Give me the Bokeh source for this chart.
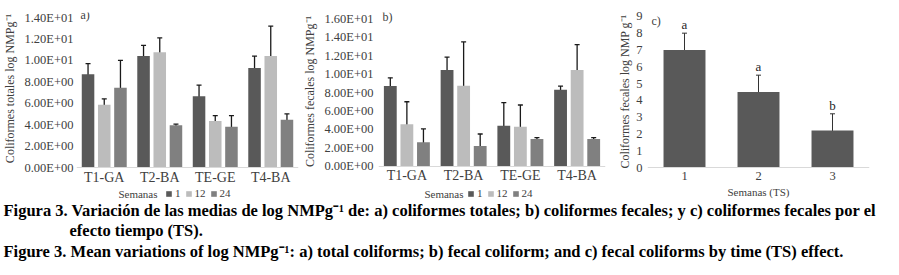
from bokeh.plotting import figure
from bokeh.models import (ColumnDataSource, FactorRange, Range1d, FixedTicker,
                          Whisker, TeeHead, Legend, LegendItem, Label)
from bokeh.transform import dodge
from bokeh.layouts import row, column
from bokeh.embed import file_html
from bokeh.resources import INLINE

# ---------------- data ----------------
cats = ["T1-GA", "T2-BA", "TE-GE", "T4-BA"]
weeks = ["1", "12", "24"]

# panel a) coliformes totales
a_s1 = [8.7, 10.4, 6.65, 9.3]
a_s1_hi = [9.7, 11.4, 7.7, 10.4]
a_s1_lo = [7.65, 9.3, 5.65, 8.3]
a_s12 = [5.85, 10.75, 4.35, 10.4]
a_s12_hi = [6.4, 12.1, 4.85, 13.2]
a_s12_lo = [4.85, 9.65, 3.35, 9.25]
a_s24 = [7.45, 3.95, 3.8, 4.45]
a_s24_hi = [10.0, 4.05, 4.85, 5.0]
a_s24_lo = [6.45, 2.9, 2.75, 3.45]
a_yticks = [0, 2, 4, 6, 8, 10, 12, 14]
a_ylabels = ["0.00E+00", "2.00E+00", "4.00E+00", "6.00E+00", "8.00E+00",
             "1.00E+01", "1.20E+01", "1.40E+01"]

# panel b) coliformes fecales
b_s1 = [8.7, 10.45, 4.4, 8.3]
b_s1_hi = [9.6, 11.85, 6.9, 8.7]
b_s1_lo = [7.7, 9.3, 3.4, 7.3]
b_s12 = [4.55, 8.75, 4.3, 10.45]
b_s12_hi = [7.0, 13.5, 6.65, 13.2]
b_s12_lo = [3.5, 7.8, 3.35, 9.3]
b_s24 = [2.6, 2.2, 2.95, 2.95]
b_s24_hi = [4.05, 3.5, 3.1, 3.1]
b_s24_lo = [1.4, 1.15, 1.9, 1.9]
b_yticks = [0, 2, 4, 6, 8, 10, 12, 14, 16]
b_ylabels = ["0.00E+00", "2.00E+00", "4.00E+00", "6.00E+00", "8.00E+00",
             "1.00E+01", "1.20E+01", "1.40E+01", "1.60E+01"]

# panel c) coliformes fecales por semanas (TS)
c_weeks = ["1", "2", "3"]
c_means = [7.0, 4.5, 2.2]
c_err = [1.0, 1.0, 1.0]
c_letters = ["a", "a", "b"]
c_yticks = [0, 1, 2, 3, 4, 5, 6, 7, 8, 9]

caption1 = ("Figura 3. Variación de las medias de log NMPg\u207b\u00b9 de: a) coliformes totales; "
            "b) coliformes fecales; y c) coliformes fecales por el")
caption2 = "efecto tiempo (TS)."
caption3 = ("Figure 3. Mean variations of log NMPg\u207b\u00b9: a) total coliforms; b) fecal coliform; "
            "and c) fecal coliforms by time (TS) effect.")

SERIF = "Liberation Serif"
COLORS = ["#595959", "#bcbcbc", "#808080"]
ERR = "#1a1a1a"
AXIS = "#d9d9d9"
TXT = "#404040"
NB = "\u00a0"  # leading non-breaking spaces lift the centred y-axis titles


def style_common(p):
    p.outline_line_color = None
    p.background_fill_color = "white"
    p.border_fill_color = "white"
    p.xgrid.grid_line_color = None
    p.ygrid.grid_line_color = None
    for ax in (p.xaxis[0], p.yaxis[0]):
        ax.major_tick_line_color = None
        ax.minor_tick_line_color = None
        ax.major_tick_out = 0
        ax.major_tick_in = 0
        ax.minor_tick_out = 0
        ax.minor_tick_in = 0
        ax.major_label_text_font = SERIF
        ax.axis_label_text_font = SERIF
        ax.axis_label_text_font_style = "normal"
        ax.axis_label_text_color = TXT
        ax.major_label_text_color = TXT
    p.yaxis[0].axis_line_color = None
    p.xaxis[0].axis_line_color = AXIS
    p.xaxis[0].axis_line_width = 1
    # x axis drawn at y = 0 inside the frame (frame reaches the bottom edge)
    p.xaxis[0].fixed_location = 0


def group_panel(tag, tag_y, ylabel, yrange, yticks, ylabels, series, width,
                bl, br, bt, tick_standoff, legend_x, semanas_x):
    p = figure(x_range=FactorRange(*cats), y_range=Range1d(*yrange),
               width=width, height=200, toolbar_location=None,
               output_backend="svg", min_border_left=bl, min_border_right=br,
               min_border_top=bt, min_border_bottom=0)
    style_common(p)
    data = dict(cats=cats)
    offsets = [-0.292, 0.0, 0.292]
    for i, (m, hi, lo) in enumerate(series):
        data[f"m{i}"] = m
        data[f"hi{i}"] = hi
        data[f"lo{i}"] = lo
    src = ColumnDataSource(data)
    items = []
    for i, wk in enumerate(weeks):
        r = p.vbar(x=dodge("cats", offsets[i], range=p.x_range), top=f"m{i}",
                   width=0.226, source=src, fill_color=COLORS[i], line_color=None)
        items.append(LegendItem(label=wk, renderers=[r]))
        w = Whisker(base=dodge("cats", offsets[i], range=p.x_range),
                    upper=f"hi{i}", lower=f"lo{i}", source=src,
                    line_color=ERR, line_width=1.3,
                    upper_head=TeeHead(size=5, line_color=ERR, line_width=1.3),
                    lower_head=TeeHead(size=5, line_color=ERR, line_width=1.3))
        p.add_layout(w)
    p.yaxis[0].ticker = FixedTicker(ticks=yticks)
    p.yaxis[0].major_label_overrides = {t: l for t, l in zip(yticks, ylabels)}
    p.yaxis[0].major_label_text_font_size = "12.5px"
    p.yaxis[0].major_label_standoff = tick_standoff
    p.yaxis[0].axis_label = ylabel
    p.yaxis[0].axis_label_text_font_size = "12px"
    p.yaxis[0].axis_label_standoff = 4
    p.xaxis[0].major_label_text_font_size = "14px"
    p.xaxis[0].major_label_standoff = 2

    leg = Legend(items=items, orientation="horizontal", location=(legend_x, 1),
                 glyph_width=7, glyph_height=7, label_height=12, label_width=4,
                 label_standoff=3, spacing=4, padding=0, margin=0,
                 border_line_color=None, background_fill_alpha=0,
                 label_text_font=SERIF, label_text_font_size="11px",
                 label_text_color=TXT)
    p.add_layout(leg, "center")
    p.add_layout(Label(x=semanas_x, y=7, x_units="screen", y_units="screen",
                       text="Semanas", text_font=SERIF, text_font_size="11px",
                       text_align="right", text_baseline="middle",
                       text_color=TXT))
    p.add_layout(Label(x=4, y=tag_y, x_units="screen", y_units="data",
                       text=tag, text_font=SERIF, text_font_size="12px",
                       text_align="left", text_baseline="middle",
                       text_color=TXT))
    return p


pa = group_panel("a)", 14.2, NB * 12 + "Coliformes totales log NMPg\u207b\u00b9", (-3.075, 14.47),
                 a_yticks, a_ylabels,
                 [(a_s1, a_s1_hi, a_s1_lo), (a_s12, a_s12_hi, a_s12_lo),
                  (a_s24, a_s24_hi, a_s24_lo)],
                 300, 72, 2, 10, 3, 89, 81)
pb = group_panel("b)", 16.15, NB * 10 + "Coliformes fecales log NMPg\u207b\u00b9", (-3.72, 16.69),
                 b_yticks, b_ylabels,
                 [(b_s1, b_s1_hi, b_s1_lo), (b_s12, b_s12_hi, b_s12_lo),
                  (b_s24, b_s24_hi, b_s24_lo)],
                 315, 78, 10, 12, 5, 89, 85)

# panel c
pc = figure(x_range=FactorRange(*c_weeks), y_range=Range1d(-1.96, 9.23), width=284, height=200,
            toolbar_location=None, output_backend="svg", min_border_left=31,
            min_border_right=30, min_border_top=10, min_border_bottom=0)
style_common(pc)
csrc = ColumnDataSource(dict(
    weeks=c_weeks, means=c_means,
    hi=[m + e for m, e in zip(c_means, c_err)],
    lo=[m - e for m, e in zip(c_means, c_err)],
    letters=c_letters))
pc.vbar(x="weeks", top="means", width=0.567, source=csrc, fill_color="#595959", line_color=None)
pc.add_layout(Whisker(base="weeks", upper="hi", lower="lo", source=csrc,
                      line_color="#333333", line_width=1,
                      upper_head=TeeHead(size=5, line_color="#333333", line_width=1),
                      lower_head=TeeHead(size=5, line_color="#333333", line_width=1)))
pc.text(x="weeks", y="hi", text="letters", source=csrc, text_font=SERIF,
        text_font_size="13px", text_align="center", text_baseline="bottom",
        y_offset=-1, text_color="#262626")
pc.yaxis[0].ticker = FixedTicker(ticks=c_yticks)
pc.yaxis[0].major_label_text_font_size = "12.5px"
pc.yaxis[0].major_label_standoff = 5
pc.yaxis[0].axis_label = NB * 10 + "Coliformes fecales log NMP g\u207b\u00b9"
pc.yaxis[0].axis_label_text_font_size = "12px"
pc.yaxis[0].axis_label_standoff = 1
pc.xaxis[0].major_label_text_font_size = "12.5px"
pc.xaxis[0].major_label_standoff = 4
pc.xaxis[0].axis_label = "Semanas (TS)"
pc.xaxis[0].axis_label_text_font_size = "11px"
pc.xaxis[0].axis_label_standoff = 3
pc.add_layout(Label(x=4, y=8.75, x_units="screen", y_units="data",
                    text="c)", text_font=SERIF, text_font_size="12px",
                    text_align="left", text_baseline="middle", text_color=TXT))

# caption
cap = figure(x_range=Range1d(0, 899), y_range=Range1d(0, 75), width=899, height=75,
             toolbar_location=None, output_backend="svg", min_border=0)
cap.outline_line_color = None
cap.axis.visible = False
cap.grid.visible = False
for txt, x, y in [(caption1, 3, 65), (caption2, 69, 45), (caption3, 3, 24)]:
    cap.add_layout(Label(x=x, y=y, x_units="screen", y_units="screen", text=txt,
                         text_font=SERIF, text_font_size="16.5px",
                         text_font_style="bold", text_align="left",
                         text_baseline="middle", text_color="black"))

layout = column(row(pa, pb, pc, spacing=0), cap, spacing=0)
open("out.html", "w").write(file_html(layout, INLINE))
